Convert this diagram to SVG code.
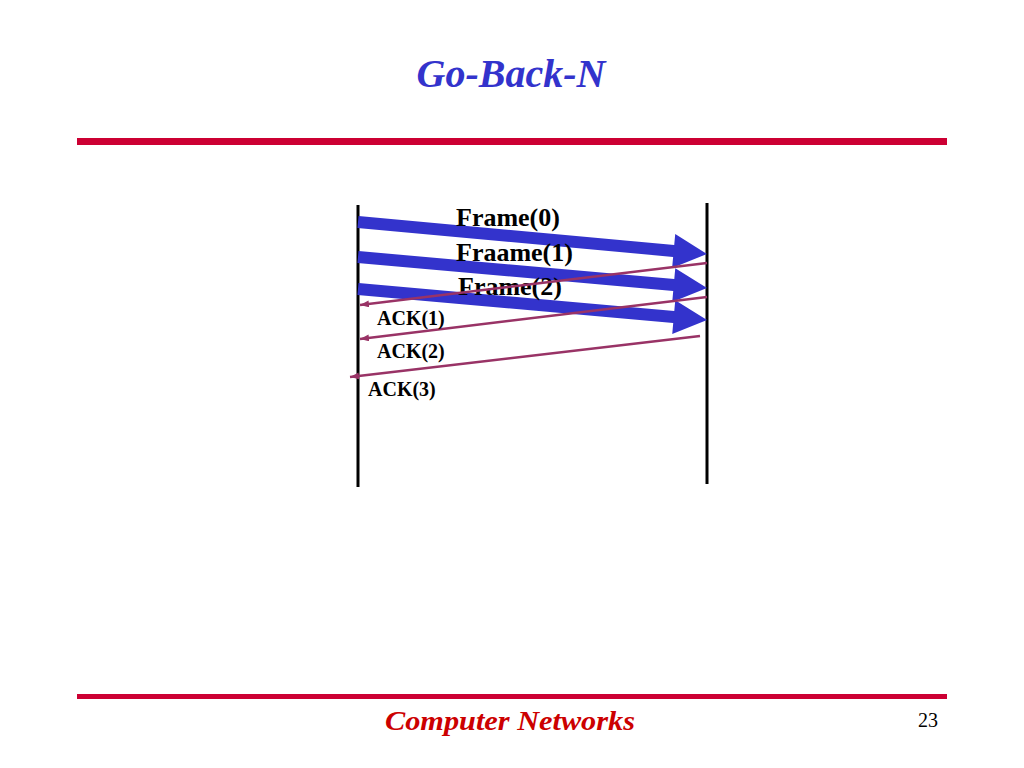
<svg xmlns="http://www.w3.org/2000/svg" width="1024" height="768" viewBox="0 0 1024 768">
  <style>
    .rule { stroke: #CC0033; }
    .life { stroke: #000000; stroke-width: 3; }
    .frame { fill: #3333CC; }
    .ack { stroke: #993366; stroke-width: 2.5; fill: none; marker-end: url(#ackhead); }
    .flabel { font-family: "Liberation Serif", "Times New Roman", serif; font-weight: bold; font-size: 26px; fill: #000000; }
    .alabel { font-family: "Liberation Serif", "Times New Roman", serif; font-weight: bold; font-size: 20px; fill: #000000; }
  </style>
  <defs>
    <polygon id="fatarrow" points="0,-6 317,-6 317,-17 350.4,0 317,17 317,6 0,6"/>
    <marker id="ackhead" markerUnits="userSpaceOnUse" markerWidth="10" markerHeight="8" refX="9" refY="3.5" orient="auto">
      <path d="M0,0 L9,3.5 L0,7 z" fill="#993366"/>
    </marker>
  </defs>
  <rect width="1024" height="768" fill="#ffffff"/>

  <g id="title">
    <text x="511" y="87" text-anchor="middle" font-family="Liberation Serif, Times New Roman, serif" font-weight="bold" font-style="italic" font-size="40" fill="#3333CC">Go-Back-N</text>
  </g>
  <line class="rule" x1="77" y1="141.5" x2="947" y2="141.5" stroke-width="7"/>
  <line class="rule" x1="77" y1="696.5" x2="947" y2="696.5" stroke-width="5"/>

  <g id="sender"><line class="life" x1="358" y1="205" x2="358" y2="487"/></g>
  <g id="receiver"><line class="life" x1="707" y1="203" x2="707" y2="484"/></g>

  <g id="frames">
    <g id="frame0"><use href="#fatarrow" class="frame" transform="translate(358,222) rotate(5.24)"/></g>
    <g id="frame1"><use href="#fatarrow" class="frame" transform="translate(358,257) rotate(5.08)"/></g>
    <g id="frame2"><use href="#fatarrow" class="frame" transform="translate(358,289) rotate(5.08)"/></g>
  </g>

  <g id="frame-labels">
    <text class="flabel" x="456" y="226">Frame(0)</text>
    <text class="flabel" x="456" y="261">Fraame(1)</text>
    <text class="flabel" x="458" y="295">Frame(2)</text>
  </g>

  <g id="connectors">
    <line id="ack1" class="ack" x1="707" y1="263" x2="360" y2="305"/>
    <line id="ack2" class="ack" x1="707" y1="297" x2="360" y2="339"/>
    <line id="ack3" class="ack" x1="700" y1="336" x2="350" y2="377"/>
  </g>

  <g id="ack-labels">
    <text class="alabel" x="377" y="325">ACK(1)</text>
    <text class="alabel" x="377" y="358">ACK(2)</text>
    <text class="alabel" x="368" y="396">ACK(3)</text>
  </g>

  <g id="footer">
    <text x="385" y="730" font-family="Liberation Serif, Times New Roman, serif" font-weight="bold" font-style="italic" font-size="28" fill="#CC0000" textLength="250" lengthAdjust="spacingAndGlyphs">Computer Networks</text>
    <text x="938" y="727" text-anchor="end" font-family="Liberation Serif, Times New Roman, serif" font-size="20" fill="#000000">23</text>
  </g>
</svg>
